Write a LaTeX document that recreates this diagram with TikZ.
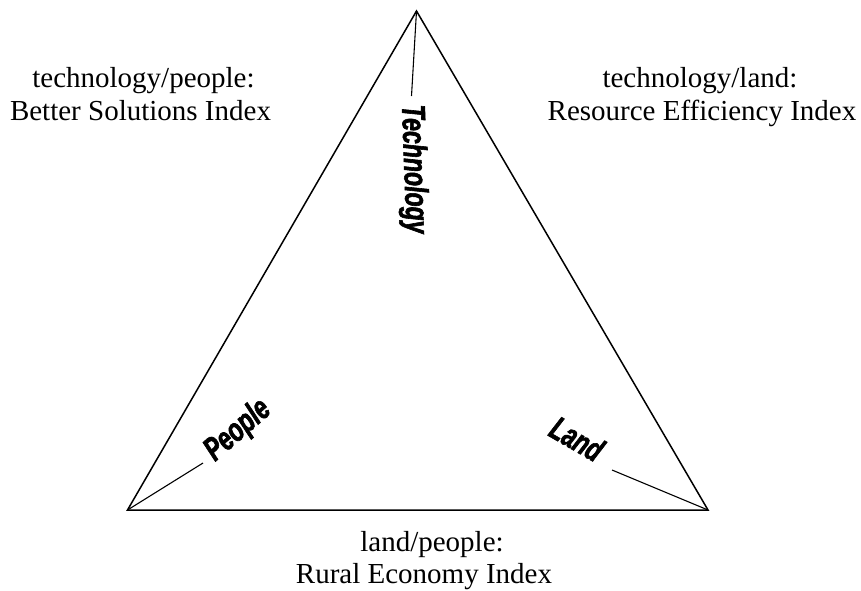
\documentclass[tikz,border=0pt]{standalone}
\usepackage{fontspec}
\setmainfont{Liberation Serif}
\newfontfamily\labfont[UprightFont={* Bold Italic}, FakeBold=1.8, FakeStretch=0.7]{Liberation Sans}
\tikzset{
  tri/.style={line width=1.5pt, line join=miter},
  tick/.style={line width=1.1pt},
  idx/.style={font=\fontsize{29}{32}\selectfont, inner sep=0pt, anchor=base},
  corner/.style={font=\labfont\fontsize{33}{35}\selectfont, inner sep=0pt, anchor=base west},
}
\begin{document}
\begin{tikzpicture}[x=1pt,y=-1pt]
\useasboundingbox (0,0) rectangle (861,590);
\coordinate (T) at (416.5,11);
\coordinate (L) at (127.5,510);
\coordinate (R) at (708,510);
\draw[tri] (T) -- (R) -- (L) -- cycle;
\coordinate (Tin) at (411.5,96);
\coordinate (Lin) at (203,463);
\coordinate (Rin) at (612,470);
\draw[tick] (T) -- (Tin);
\draw[tick] (L) -- (Lin);
\draw[tick] (R) -- (Rin);
\node[corner, rotate=-88] (tech) at (402,105) {Technology};
\node[corner, rotate=41] (peop) at (215,462) {People};
\node[corner, rotate=-30] (land) at (547,435) {Land};
\node[idx] (tp1) at (143.5,87) {technology/people:};
\node[idx] (tp2) at (140.5,120) {Better Solutions Index};
\node[idx] (tl1) at (700,87) {technology/land:};
\node[idx] (tl2) at (702,120) {Resource Efficiency Index};
\node[idx] (lp1) at (432,551) {land/people:};
\node[idx] (lp2) at (424,583) {Rural Economy Index};
\end{tikzpicture}
\end{document}
